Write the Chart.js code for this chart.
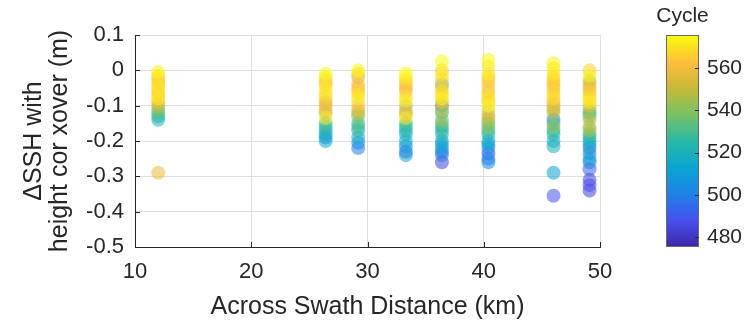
<!DOCTYPE html>
<html>
<head>
<meta charset="utf-8">
<script src="https://cdn.jsdelivr.net/npm/chart.js@4"></script>
<style>
  body { margin: 0; background: #fff; }
  canvas { display: block; }
</style>
</head>
<body>
<canvas id="xoverChart" width="754" height="324"></canvas>
<script>
// across-swath distance of each column of crossovers (km)
const distances = [12, 26.4, 29.2, 33.3, 36.4, 40.4, 46.0, 49.1];

// SSH difference (m) per column
const sshValues = [
    [-0.005, -0.015, -0.02, -0.03, -0.04, -0.045, -0.055, -0.065, -0.075, -0.08, -0.09, -0.1, -0.11, -0.12, -0.13, -0.14, -0.29],
    [-0.01, -0.02, -0.03, -0.04, -0.05, -0.065, -0.075, -0.09, -0.1, -0.11, -0.12, -0.135, -0.15, -0.16, -0.17, -0.18, -0.19, -0.2],
    [0.0, -0.01, -0.02, -0.04, -0.05, -0.06, -0.07, -0.08, -0.095, -0.11, -0.12, -0.13, -0.15, -0.16, -0.17, -0.19, -0.205, -0.22],
    [-0.008, -0.02, -0.03, -0.04, -0.05, -0.06, -0.075, -0.085, -0.1, -0.115, -0.125, -0.135, -0.15, -0.16, -0.17, -0.18, -0.2, -0.215, -0.23, -0.24],
    [0.025, 0.0, -0.01, -0.025, -0.04, -0.05, -0.06, -0.07, -0.08, -0.09, -0.1, -0.11, -0.12, -0.14, -0.15, -0.16, -0.17, -0.18, -0.2, -0.21, -0.22, -0.23, -0.24, -0.26],
    [0.03, 0.01, -0.01, -0.02, -0.03, -0.045, -0.06, -0.07, -0.08, -0.09, -0.1, -0.115, -0.13, -0.14, -0.15, -0.16, -0.17, -0.18, -0.2, -0.21, -0.22, -0.235, -0.25, -0.26],
    [0.02, 0.005, -0.01, -0.02, -0.03, -0.04, -0.05, -0.06, -0.07, -0.08, -0.09, -0.1, -0.11, -0.12, -0.14, -0.15, -0.16, -0.17, -0.18, -0.2, -0.215, -0.29, -0.355],
    [0.0, -0.015, -0.03, -0.04, -0.05, -0.06, -0.07, -0.08, -0.09, -0.1, -0.11, -0.12, -0.13, -0.14, -0.16, -0.17, -0.18, -0.19, -0.2, -0.21, -0.22, -0.235, -0.25, -0.26, -0.28, -0.31, -0.325, -0.34]
];

// cycle number of each point (colour)
const cycleValues = [
    [574, 568, 566, 560, 565, 571, 568, 562, 566, 572, 556, 548, 540, 532, 524, 520, 558],
    [575, 568, 565, 562, 572, 570, 566, 552, 556, 560, 545, 570, 530, 525, 520, 512, 505, 515],
    [575, 566, 550, 563, 560, 565, 570, 572, 562, 555, 548, 540, 528, 530, 522, 518, 505, 500],
    [575, 572, 566, 563, 560, 562, 568, 573, 552, 545, 556, 570, 530, 525, 522, 520, 515, 508, 490, 512],
    [575, 565, 572, 565, 530, 560, 570, 566, 574, 560, 505, 550, 525, 542, 535, 520, 526, 522, 505, 515, 510, 490, 500, 485],
    [575, 570, 572, 566, 562, 566, 560, 568, 570, 564, 574, 556, 550, 545, 535, 540, 528, 520, 515, 512, 505, 488, 500, 503],
    [574, 570, 572, 566, 565, 563, 560, 568, 562, 570, 558, 555, 545, 550, 503, 530, 542, 526, 522, 518, 520, 512, 488],
    [566, 574, 545, 558, 552, 566, 563, 570, 572, 560, 540, 520, 535, 548, 542, 546, 528, 522, 515, 518, 490, 505, 512, 500, 492, 485, 488, 484]
];

const xTicks = [10, 20, 30, 40, 50];
const yTicks = [-0.5, -0.4, -0.3, -0.2, -0.1, 0, 0.1];
const cycleTicks = [480, 500, 520, 540, 560];
const cycleMin = 475.5;
const cycleMax = 575.5;

const textColor = '#262626';
const gridColor = '#dfdfdf';
const fontFamily = "'Liberation Sans', Arial, Helvetica, sans-serif";

// parula-like colormap stops
const parula = [
    [0.000, [62, 38, 168]],
    [0.125, [70, 80, 238]],
    [0.250, [30, 130, 230]],
    [0.375, [10, 165, 212]],
    [0.500, [40, 185, 165]],
    [0.625, [120, 193, 100]],
    [0.750, [200, 185, 55]],
    [0.870, [254, 190, 60]],
    [1.000, [249, 251, 14]]
];

function parulaColor(t, alpha) {
    t = Math.max(0, Math.min(1, t));
    for (let i = 1; i < parula.length; i++) {
        if (t <= parula[i][0]) {
            const [t0, c0] = parula[i - 1];
            const [t1, c1] = parula[i];
            const f = (t - t0) / (t1 - t0);
            const c = c0.map((v, k) => Math.round(v + (c1[k] - v) * f));
            return `rgba(${c[0]}, ${c[1]}, ${c[2]}, ${alpha})`;
        }
    }
    return 'rgba(249, 251, 14, ' + alpha + ')';
}

// flatten, draw in cycle order so later cycles sit on top
const points = [];
distances.forEach((d, i) => {
    sshValues[i].forEach((v, j) => {
        points.push({ x: d, y: v, cycle: cycleValues[i][j] });
    });
});
points.sort((a, b) => a.cycle - b.cycle);

const colorbarPlugin = {
    id: 'colorbar',
    afterDraw(chart) {
        const ctx = chart.ctx;
        const cb = chart.scales.cb;
        const xs = chart.scales.x;
        const ys = chart.scales.y;
        const area = chart.chartArea;

        // inward tick marks on main axes
        ctx.save();
        ctx.strokeStyle = textColor;
        ctx.lineWidth = 1;
        ctx.beginPath();
        xs.ticks.forEach(t => {
            const px = Math.round(xs.getPixelForValue(t.value)) + 0.5;
            ctx.moveTo(px, area.bottom);
            ctx.lineTo(px, area.bottom - 5);
        });
        ys.ticks.forEach(t => {
            const py = Math.round(ys.getPixelForValue(t.value)) + 0.5;
            ctx.moveTo(area.left, py);
            ctx.lineTo(area.left + 5, py);
        });
        ctx.stroke();

        // colour bar
        const left = 666, width = 33;
        const top = cb.getPixelForValue(cycleMax);
        const bottom = cb.getPixelForValue(cycleMin);
        const grad = ctx.createLinearGradient(0, bottom, 0, top);
        parula.forEach(([t]) => grad.addColorStop(t, parulaColor(t, 1)));
        ctx.fillStyle = grad;
        ctx.fillRect(left, top, width, bottom - top);
        ctx.strokeStyle = '#6b6b6b';
        ctx.strokeRect(left + 0.5, top + 0.5, width - 1, bottom - top - 1);

        ctx.strokeStyle = textColor;
        ctx.beginPath();
        cb.ticks.forEach(t => {
            const py = Math.round(cb.getPixelForValue(t.value)) + 0.5;
            ctx.moveTo(left + width, py);
            ctx.lineTo(left + width - 4, py);
        });
        ctx.stroke();

        ctx.fillStyle = textColor;
        ctx.font = '21px ' + fontFamily;
        ctx.textAlign = 'center';
        ctx.textBaseline = 'middle';
        ctx.fillText('Cycle', left + width / 2, 16);
        ctx.restore();
    }
};

new Chart(document.getElementById('xoverChart').getContext('2d'), {
    type: 'scatter',
    data: {
        datasets: [{
            data: points.map(p => ({ x: p.x, y: p.y })),
            backgroundColor: points.map(p => parulaColor((p.cycle - cycleMin) / (cycleMax - cycleMin), 0.55)),
            borderWidth: 0,
            pointRadius: 7,
            pointHoverRadius: 7
        }]
    },
    options: {
        responsive: false,
        animation: false,
        events: [],
        layout: { padding: { top: 35, left: 0, right: 0, bottom: 0 } },
        plugins: {
            legend: { display: false },
            tooltip: { enabled: false }
        },
        scales: {
            x: {
                type: 'linear',
                min: 10,
                max: 50,
                afterBuildTicks: scale => { scale.ticks = xTicks.map(v => ({ value: v })); },
                afterFit: scale => { scale.height = 77; },
                ticks: {
                    color: textColor,
                    font: { family: fontFamily, size: 22 },
                    padding: 12,
                    maxRotation: 0
                },
                grid: { color: gridColor, drawTicks: false },
                border: { color: textColor },
                title: {
                    display: true,
                    text: 'Across Swath Distance (km)',
                    color: textColor,
                    font: { family: fontFamily, size: 25 },
                    padding: { top: 0, bottom: 2 }
                }
            },
            y: {
                type: 'linear',
                min: -0.5,
                max: 0.1,
                afterBuildTicks: scale => { scale.ticks = yTicks.map(v => ({ value: v })); },
                afterFit: scale => { scale.width = 135; },
                ticks: {
                    color: textColor,
                    font: { family: fontFamily, size: 22 },
                    padding: 11,
                    callback: v => String(Math.round(v * 10) / 10)
                },
                grid: { color: gridColor, drawTicks: false },
                border: { color: textColor },
                title: {
                    display: true,
                    text: ['\u0394SSH with', 'height cor xover (m)'],
                    color: textColor,
                    font: { family: fontFamily, size: 25, lineHeight: 1.05 },
                    padding: { top: 21, bottom: 0 }
                }
            },
            cb: {
                type: 'linear',
                position: 'right',
                min: cycleMin,
                max: cycleMax,
                afterBuildTicks: scale => { scale.ticks = cycleTicks.map(v => ({ value: v })); },
                afterFit: scale => {
                    scale.width = 154;
                    scale.paddingTop = 0;
                    scale.paddingBottom = 0;
                },
                ticks: {
                    color: textColor,
                    font: { family: fontFamily, size: 21 },
                    padding: 107
                },
                grid: { display: false, drawTicks: false },
                border: { display: false }
            }
        }
    },
    plugins: [colorbarPlugin]
});
</script>
</body>
</html>
